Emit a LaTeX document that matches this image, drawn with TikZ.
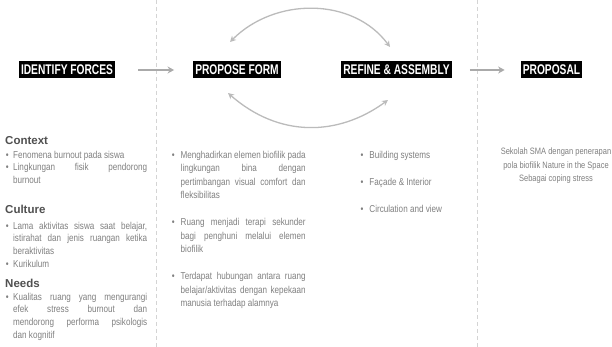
\documentclass[tikz,border=0pt]{standalone}
\usepackage{fontspec}
\setmainfont{Liberation Sans}[FakeStretch=0.81]
\newfontfamily\stagefont{Liberation Sans}[FakeStretch=0.73]
\newfontfamily\secfont{Liberation Sans}
\usetikzlibrary{arrows.meta}
\definecolor{bodytxt}{HTML}{808080}
\definecolor{sectxt}{HTML}{505050}
\definecolor{flowgray}{HTML}{AAAAAA}
\definecolor{loopgray}{HTML}{BBBBBB}
\definecolor{divider}{HTML}{D4D4D4}
\newcommand{\bl}[1][4.5pt]{\noindent\llap{\textbullet\hspace{#1}}}
\begin{document}
\begin{tikzpicture}[x=1pt,y=-1pt,
  stage/.style={fill=black, text=white, font=\stagefont\bfseries\fontsize{14}{14}\selectfont,
    inner xsep=2pt, inner ysep=0pt, text height=10pt, text depth=0pt, minimum height=17pt},
  sect/.style={text=sectxt, font=\secfont\bfseries\fontsize{11.5}{13}\selectfont, inner sep=0pt, anchor=base west},
  body/.style={text=bodytxt, inner sep=0pt, align=justify, anchor=north west,
    font=\fontsize{10}{#1}\selectfont,
    execute at begin node={\hyphenpenalty=10000\exhyphenpenalty=10000\tolerance=9999}},
  body/.default=13.5,
  plain/.style={text=bodytxt, inner sep=0pt, anchor=north west, font=\fontsize{10}{13.3}\selectfont},
  flow/.style={draw=flowgray, line width=1.8pt, -{Stealth[length=6.5pt,width=7pt]}},
  loop/.style={draw=loopgray, line width=1.3pt, {Stealth[length=6pt,width=6pt]}-{Stealth[length=6pt,width=6pt]}},
  divline/.style={draw=divider, line width=0.8pt, dash pattern=on 4pt off 3pt}
]
\useasboundingbox (0,0) rectangle (612,347);
\fill[white] (0,0) rectangle (612,347);

% dividers
\draw[divline] (156,0) -- (156,347);
\draw[divline] (477,0) -- (477,347);

% stages
\node[stage] (identify) at (67,70) {IDENTIFY FORCES};
\node[stage] (propose) at (237,70) {PROPOSE FORM};
\node[stage] (refine) at (396.5,70) {REFINE \& ASSEMBLY};
\node[stage] (proposal) at (551.5,70) {PROPOSAL};

\draw[flow, shorten <=23pt, shorten >=19pt] (identify) -- (propose);
\draw[flow, shorten <=18pt, shorten >=16pt] (refine) -- (proposal);

% loops
\coordinate (ta) at (230,42);
\coordinate (tb) at (390,47);
\coordinate (ba) at (228,93);
\coordinate (bb) at (388,100);
\draw[loop] (ta) .. controls (275,-3) and (353,-3) .. (tb);
\draw[loop] (ba) .. controls (278.5,137.4) and (337.5,136.9) .. (bb);

% left column
\node[sect] (context) at (5,144.5) {Context};
\node[body=12.6, text width=134pt] (contextlist) at (13,150.8)
  {\bl Fenomena burnout pada siswa\\ \bl Lingkungan fisik pendorong\linebreak burnout};
\node[sect] (culture) at (5,213) {Culture};
\node[body=12.6, text width=134pt] (culturelist) at (13,221.8)
  {\bl Lama aktivitas siswa saat belajar,\linebreak istirahat dan jenis ruangan ketika\linebreak beraktivitas\\ \bl Kurikulum};
\node[sect] (needs) at (5,287) {Needs};
\node[body=12.6, text width=134pt] (needslist) at (13,292.8)
  {\bl Kualitas ruang yang mengurangi\linebreak efek stress burnout dan\linebreak mendorong performa psikologis\linebreak dan kognitif};

% middle column
\node[body, text width=125pt] (m1) at (180.5,150.8)
  {\bl[6pt]Menghadirkan elemen biofilik pada\linebreak lingkungan bina dengan\linebreak pertimbangan visual comfort dan\linebreak fleksibilitas};
\node[body, text width=125pt] (m2) at (180.5,218.3)
  {\bl[6pt]Ruang menjadi terapi sekunder\linebreak bagi penghuni melalui elemen\linebreak biofilik};
\node[body, text width=125pt] (m3) at (180.5,272.3)
  {\bl[6pt]Terdapat hubungan antara ruang\linebreak belajar/aktivitas dengan kepekaan\linebreak manusia terhadap alamnya};

% refine column
\node[plain] (r1) at (369.3,150.8) {\llap{\textbullet\hspace{6pt}}Building systems};
\node[plain] (r2) at (369.3,177.8) {\llap{\textbullet\hspace{6pt}}Façade \& Interior};
\node[plain] (r3) at (369.3,204.8) {\llap{\textbullet\hspace{6pt}}Circulation and view};

% proposal column
\node[plain, anchor=north, align=center, font=\fontsize{9.25}{13.3}\selectfont] (prop) at (556,147.8)
  {Sekolah SMA dengan penerapan\\pola biofilik Nature in the Space\\Sebagai coping stress};
\end{tikzpicture}
\end{document}
